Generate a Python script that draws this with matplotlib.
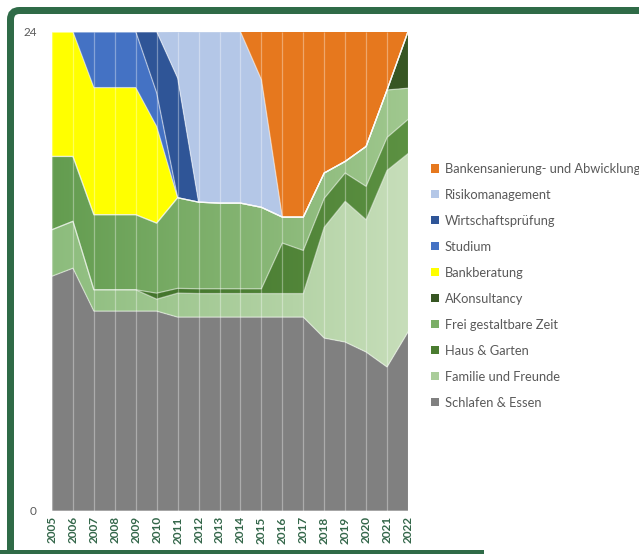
import numpy as np
import matplotlib
matplotlib.use("Agg")
import matplotlib.pyplot as plt
from matplotlib.patches import Patch, FancyBboxPatch, Rectangle
from matplotlib.colors import LinearSegmentedColormap
from matplotlib.transforms import IdentityTransform

plt.rcParams['font.family'] = ['Lato', 'DejaVu Sans']

# hours per day
years = list(range(2005, 2023))
schlafen = [11.75, 12.15, 10, 10, 10, 10, 9.7, 9.7, 9.7, 9.7, 9.7, 9.7, 9.7, 8.65, 8.45, 7.95, 7.2, 8.95]
familie = [2.33, 2.35, 1.07, 1.07, 1.07, 0.6, 1.2, 1.18, 1.18, 1.18, 1.18, 1.18, 1.18, 5.55, 7.05, 6.63, 9.85, 8.94]
haus = [0, 0, 0, 0, 0, 0.3, 0.24, 0.24, 0.24, 0.24, 0.24, 2.53, 2.16, 1.45, 1.42, 1.67, 1.65, 1.71]
frei = [3.67, 3.25, 3.76, 3.76, 3.76, 3.51, 4.54, 4.34, 4.29, 4.29, 4.08, 1.3, 1.67, 1.27, 0.58, 2.0, 2.38, 1.57]
akons = [0, 0, 0, 0, 0, 0, 0, 0, 0, 0, 0, 0, 0, 0, 0, 0, 0, 2.83]
bankberatung = [6.25, 6.25, 6.37, 6.37, 6.37, 4.84, 0, 0, 0, 0, 0, 0, 0, 0, 0, 0, 0, 0]
studium = [0, 0, 2.8, 2.8, 2.8, 1.68, 0, 0, 0, 0, 0, 0, 0, 0, 0, 0, 0, 0]
wirtschaft = [0, 0, 0, 0, 0, 3.07, 6.0, 0, 0, 0, 0, 0, 0, 0, 0, 0, 0, 0]
risiko = [0, 0, 0, 0, 0, 0, 2.33, 8.54, 8.59, 8.59, 6.4, 0, 0, 0, 0, 0, 0, 0]
sanierung = [0, 0, 0, 0, 0, 0, 0, 0, 0, 0, 2.4, 9.29, 9.29, 7.08, 6.5, 5.75, 2.92, 0]

labels = ['Schlafen & Essen', 'Familie und Freunde', 'Haus & Garten', 'Frei gestaltbare Zeit',
          'AKonsultancy', 'Bankberatung', 'Studium', 'Wirtschaftsprüfung', 'Risikomanagement',
          'Bankensanierung- und Abwicklung']
series = [schlafen, familie, haus, frei, akons, bankberatung, studium, wirtschaft, risiko, sanierung]
colors = ['#808080', '#aacd9a', '#4a7c30', '#7aae66', '#375623', '#ffff00', '#4472c4',
          '#2f5597', '#b4c7e7', '#e6781e']
# left -> right gradient for the green series
gradients = {1: ('#8cbc7c', '#c7deba'), 2: ('#3a6a24', '#5c9142'), 3: ('#639c4f', '#a0c88f')}

fig = plt.figure(figsize=(6.39, 5.54), dpi=100)
ax = fig.add_axes([52 / 639, 1 - 510.7 / 554, 356 / 639, 479 / 554])

polys = ax.stackplot(years, *series, colors=colors, linewidth=0)
for idx, (c0, c1) in gradients.items():
    cmap = LinearSegmentedColormap.from_list('g%d' % idx, [c0, c1])
    im = ax.imshow(np.linspace(0, 1, 256).reshape(1, -1), extent=[2005, 2022, 0, 24],
                   aspect='auto', cmap=cmap, zorder=1.5, interpolation='bilinear')
    im.set_clip_path(polys[idx].get_paths()[0], ax.transData)

# light series borders and vertical gridlines
cum = np.cumsum(np.array(series), axis=0)
for row in cum[:-1]:
    ax.plot(years, row, color='white', alpha=0.5, lw=0.9, zorder=3)
ax.vlines(years, 0, 24, colors='white', alpha=0.35, lw=0.9, zorder=4)

ax.set_xlim(2005, 2022)
ax.set_ylim(0, 24)
ax.set_yticks([0, 24])
ax.set_xticks(years)
ax.set_xticklabels([str(y) for y in years], rotation=90, fontsize=8.5, fontweight='bold',
                   color='#34674a')
ax.tick_params(axis='x', length=0, pad=4)
ax.tick_params(axis='y', length=0, pad=11, labelsize=8.5, labelcolor='#595959')
for s in ax.spines.values():
    s.set_visible(False)

handles = [Patch(facecolor=c, edgecolor='none') for c in colors][::-1]
leg = ax.legend(handles, labels[::-1], loc='upper left',
                bbox_to_anchor=(431 / 639, 1 - 163 / 554), bbox_transform=fig.transFigure,
                frameon=False, fontsize=9.3, handlelength=0.6, handleheight=0.6,
                handletextpad=0.45, labelspacing=1.08, borderpad=0, borderaxespad=0)
for t in leg.get_texts():
    t.set_color('#595959')

# dark green frame around the chart
frame = FancyBboxPatch((10.5, -60), 720, 543.5 + 60, boxstyle='round,pad=0,rounding_size=9',
                       transform=IdentityTransform(), fill=False, edgecolor='#2f6b47',
                       linewidth=7 / 1.389)
fig.add_artist(frame)
fig.add_artist(Rectangle((0, 0), 484, 4, transform=IdentityTransform(),
                         facecolor='#2f6b47', edgecolor='none'))

fig.savefig('out.png', dpi=100)
